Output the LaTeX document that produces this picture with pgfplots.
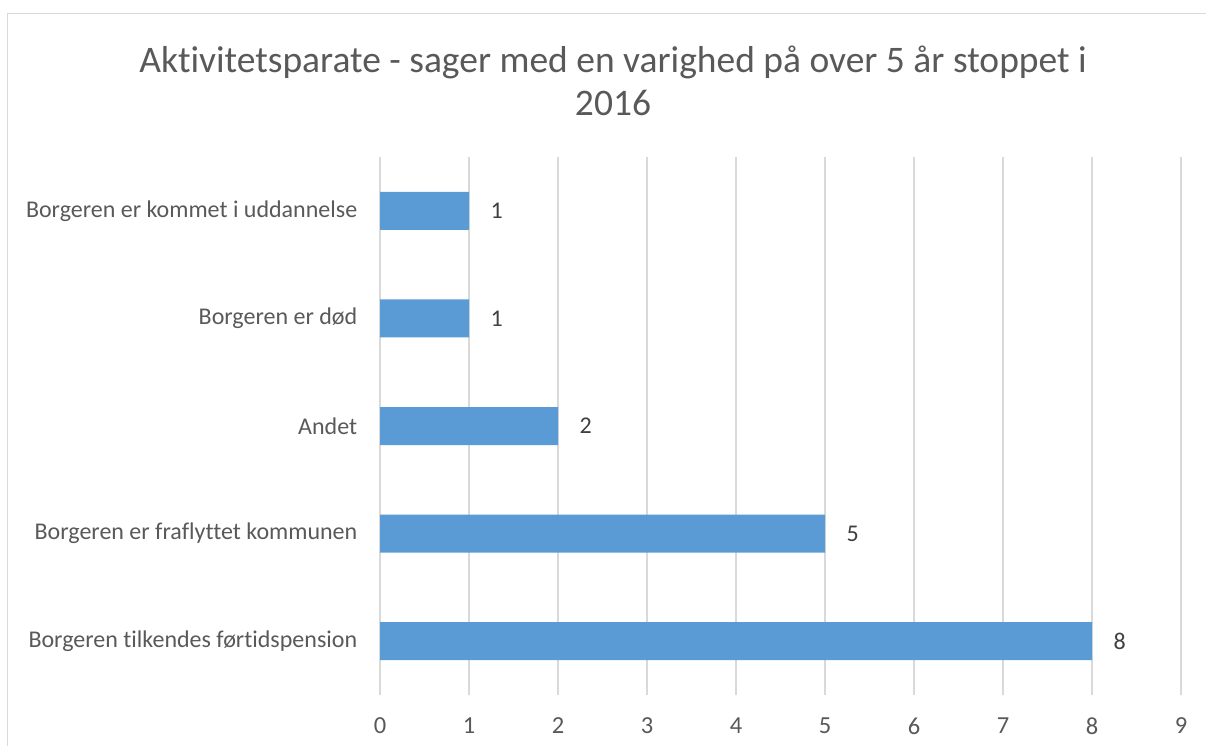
\documentclass[border=0pt]{standalone}
\usepackage{fontspec}
\setmainfont{Carlito}[Ligatures=NoCommon]
\usepackage{pgfplots}
\pgfplotsset{compat=1.18}
\definecolor{barblue}{HTML}{5B9BD5}
\definecolor{gridgray}{HTML}{D9D9D9}
\definecolor{txtgray}{HTML}{595959}
\definecolor{lblgray}{HTML}{404040}
\begin{document}
\begin{tikzpicture}
\useasboundingbox (0pt,0pt) rectangle (1206pt,-746pt);
\draw[gridgray, line width=1.5pt] (7.5pt,-800pt) -- (7.5pt,-13.5pt) -- (1260pt,-13.5pt);
\node[txtgray, align=center, font=\fontsize{37.5}{43}\selectfont] at (613pt,-81pt) {Aktivitetsparate - sager med en varighed på over 5 år stoppet i\\2016};
\begin{axis}[
  at={(380pt,-695pt)}, anchor=south west,
  scale only axis, width=801pt, height=538pt,
  xmin=0, xmax=9, ymin=-0.5, ymax=4.5,
  xbar, bar width=38pt,
  xtick={0,1,2,3,4,5,6,7,8,9},
  ytick={0,1,2,3,4},
  yticklabels={Borgeren tilkendes førtidspension, Borgeren er fraflyttet kommunen, Andet, Borgeren er død, Borgeren er kommet i uddannelse},
  xmajorgrids,
  grid style={gridgray, line width=1.5pt},
  axis line style={draw=none},
  tick style={draw=none},
  /pgf/number format/assume math mode=true,
  xticklabel style={font=\fontsize{24.5}{28}\selectfont, text=txtgray, yshift=-19pt},
  yticklabel style={font=\fontsize{24}{28}\selectfont, text=txtgray, xshift=-15pt},
  nodes near coords,
  nodes near coords style={font=\fontsize{24}{28}\selectfont, text=lblgray, anchor=west, xshift=18pt},
  clip=false,
]
\addplot[fill=barblue, draw=none] coordinates {(8,0) (5,1) (2,2) (1,3) (1,4)};
\end{axis}
\end{tikzpicture}
\end{document}
